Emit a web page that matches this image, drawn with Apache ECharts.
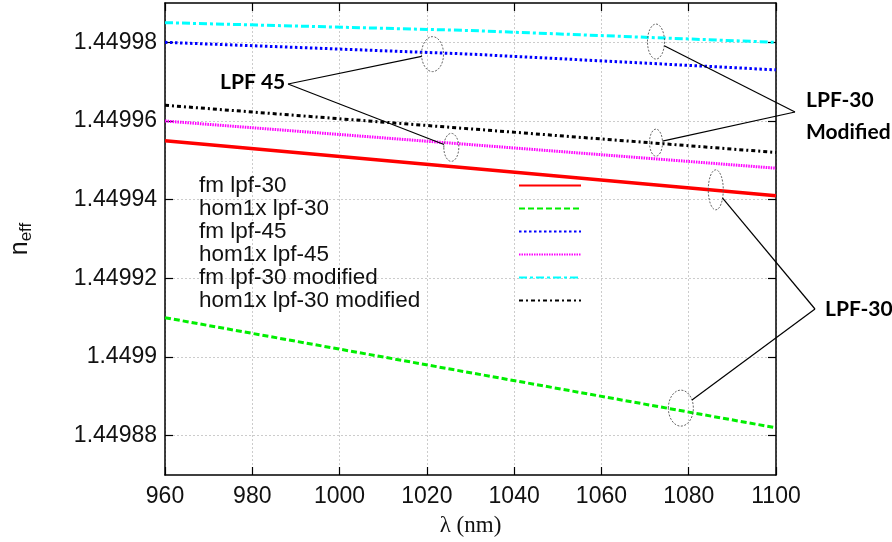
<!DOCTYPE html>
<html>
<head>
<meta charset="utf-8">
<script src="https://cdn.jsdelivr.net/npm/echarts@6/dist/echarts.min.js"></script>
<style>
  html, body { margin: 0; padding: 0; background: #fff; }
  #chart { width: 892px; height: 542px; }
</style>
</head>
<body>
<div id="chart"></div>
<script>
// Wavelength samples (nm)
const wavelength = [960, 1030, 1100];

// Effective index of each mode
const fmLpf30       = [1.449955, 1.449948, 1.449941];
const hom1xLpf30    = [1.449910, 1.449896, 1.449882];
const fmLpf45       = [1.449980, 1.449977, 1.449973];
const hom1xLpf45    = [1.449960, 1.449954, 1.449948];
const fmLpf30Mod    = [1.449985, 1.449983, 1.449980];
const hom1xLpf30Mod = [1.449964, 1.449958, 1.449952];

const seriesNames = ['fm lpf-30', 'hom1x lpf-30', 'fm lpf-45', 'hom1x lpf-45',
                     'fm lpf-30 modified', 'hom1x lpf-30 modified'];

// Axis ticks
const xTicks = [960, 980, 1000, 1020, 1040, 1060, 1080, 1100];
const yTicks = [1.44988, 1.4499, 1.44992, 1.44994, 1.44996, 1.44998];

// Callout marks: [wavelength, n_eff, rx, ry]
const lpf45Marks    = [[1021.3, 1.449977, 11, 17.5], [1025.6, 1.4499533, 7.5, 14]];
const lpf30ModMarks = [[1072.5, 1.4499802, 8.5, 17.5], [1072.5, 1.4499545, 6.5, 13.5]];
const lpf30Marks    = [[1086.2, 1.4499425, 7.5, 20], [1078.2, 1.449887, 12.5, 18]];

const values = [fmLpf30, hom1xLpf30, fmLpf45, hom1xLpf45, fmLpf30Mod, hom1xLpf30Mod];
const styles = [
  { color: '#ff0000', width: 3.5, type: 'solid' },
  { color: '#00ee00', width: 3, type: [6, 3] },
  { color: '#0000ff', width: 3, type: [2.5, 2.5] },
  { color: '#ff00ff', width: 3, type: [1.5, 1] },
  { color: '#00ffff', width: 3, type: [8, 3, 3, 3] },
  { color: '#000000', width: 3, type: [4, 3, 2, 3] }
];

const sansFont = 'Liberation Sans';
const fmtY = v => String(parseFloat(Number(v).toFixed(5)));
const fmtX = v => String(Math.round(v));

const chart = echarts.init(document.getElementById('chart'), null, { renderer: 'canvas' });

const frameAxis = {
  axisLine: { show: true, onZero: false, lineStyle: { color: '#000', width: 1.5 } },
  axisTick: { show: true, inside: true, length: 8, lineStyle: { color: '#000', width: 1.2 } }
};

const option = {
  animation: false,
  backgroundColor: '#fff',
  grid: { left: 164, right: 116, top: 3, bottom: 65, containLabel: false },
  legend: {
    orient: 'vertical',
    left: 194,
    top: 169,
    align: 'right',
    itemWidth: 62,
    itemHeight: 14,
    itemGap: 0,
    data: seriesNames,
    itemStyle: { opacity: 0 },
    formatter: name => '{t|' + name + '}',
    textStyle: {
      fontFamily: sansFont, fontSize: 22.5, color: '#111',
      rich: { t: { width: 315, align: 'left', fontFamily: sansFont, fontSize: 22.5, color: '#111' } }
    }
  },
  xAxis: [
    Object.assign({
      type: 'value', min: 960, max: 1100, interval: 20, position: 'bottom',
      name: 'λ (nm)', nameLocation: 'middle', nameGap: 39,
      nameTextStyle: { fontFamily: 'Liberation Serif', fontSize: 23, color: '#111' },
      axisLabel: { margin: 10, fontFamily: sansFont, fontSize: 23, color: '#111',
                   customValues: xTicks, formatter: fmtX },
      splitLine: { show: true, lineStyle: { color: '#cccccc', type: [2, 2], width: 1 } }
    }, frameAxis),
    Object.assign({
      type: 'value', min: 960, max: 1100, interval: 20, position: 'top',
      axisLabel: { show: false }, splitLine: { show: false }
    }, frameAxis)
  ],
  yAxis: [
    Object.assign({
      type: 'value', min: 1.44987, max: 1.44999, position: 'left',
      name: '{n|n}{s|eff}', nameLocation: 'middle', nameGap: 130, nameRotate: 90,
      nameTextStyle: {
        rich: {
          n: { fontFamily: sansFont, fontSize: 25, color: '#111' },
          s: { fontFamily: sansFont, fontSize: 17, color: '#111', padding: [12, 0, 0, 0] }
        }
      },
      axisLabel: { margin: 8, fontFamily: sansFont, fontSize: 23, color: '#111',
                   customValues: yTicks, formatter: fmtY },
      splitLine: { show: true, lineStyle: { color: '#cccccc', type: [2, 2], width: 1 } }
    }, frameAxis, {
      axisTick: Object.assign({}, frameAxis.axisTick, { customValues: yTicks })
    }),
    Object.assign({
      type: 'value', min: 1.44987, max: 1.44999, position: 'right',
      axisLabel: { show: false }, splitLine: { show: false }
    }, frameAxis, {
      axisTick: Object.assign({}, frameAxis.axisTick, { customValues: yTicks })
    })
  ],
  series: seriesNames.map((name, k) => ({
    name: name,
    type: 'line',
    xAxisIndex: 0,
    yAxisIndex: 0,
    symbol: 'none',
    data: wavelength.map((w, i) => [w, values[k][i]]),
    lineStyle: { color: styles[k].color, width: styles[k].width, type: styles[k].type, cap: 'butt' },
    itemStyle: { color: styles[k].color }
  }))
};

chart.setOption(option);

// Callouts: dashed ellipses on the curves, joined by lines to a bold label
function callout(marks, anchor, labelLines, labelPos) {
  const els = [];
  marks.forEach(m => {
    const c = chart.convertToPixel({ gridIndex: 0 }, [m[0], m[1]]);
    const rx = m[2], ry = m[3];
    els.push({
      type: 'ellipse', silent: true, z: 50,
      shape: { cx: c[0], cy: c[1], rx: rx, ry: ry },
      style: { fill: 'none', stroke: '#555', lineWidth: 0.9, lineDash: [2, 1.5] }
    });
    // point on the ellipse in the direction of the anchor
    const dx = anchor[0] - c[0], dy = anchor[1] - c[1];
    const t = 1 / Math.sqrt((dx / rx) * (dx / rx) + (dy / ry) * (dy / ry));
    els.push({
      type: 'line', silent: true, z: 50,
      shape: { x1: anchor[0], y1: anchor[1], x2: c[0] + dx * t, y2: c[1] + dy * t },
      style: { stroke: '#000', lineWidth: 1.2 }
    });
  });
  labelLines.forEach((txt, i) => {
    els.push({
      type: 'text', silent: true, z: 50,
      x: labelPos[0], y: labelPos[1] + i * 32,
      style: { text: txt, font: 'bold 21px Lato', fill: '#000', align: 'left', verticalAlign: 'middle' }
    });
  });
  return els;
}

chart.setOption({
  graphic: [].concat(
    callout(lpf45Marks, [288, 84], ['LPF 45'], [220, 82]),
    callout(lpf30ModMarks, [795, 112], ['LPF-30', 'Modified'], [806, 100]),
    callout(lpf30Marks, [815, 309], ['LPF-30'], [825, 309])
  )
});
</script>
</body>
</html>
